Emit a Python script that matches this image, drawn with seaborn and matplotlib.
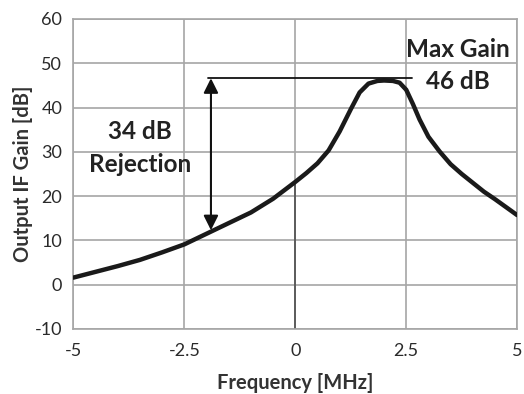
import matplotlib
matplotlib.use("Agg")
import matplotlib.pyplot as plt
import seaborn as sns
import pandas as pd

# curve
freq_mhz = [-5, -4.5, -4, -3.5, -3, -2.5, -2, -1.5, -1, -0.5, 0, 0.25, 0.5, 0.75,
            1, 1.25, 1.45, 1.65, 1.85, 2.0, 2.2, 2.35, 2.5, 2.65, 2.8, 3.0, 3.25, 3.5,
            3.75, 4, 4.25, 4.5, 4.75, 5]
gain_db = [1.6, 2.9, 4.2, 5.6, 7.3, 9.1, 11.5, 13.9, 16.3, 19.4, 23.2, 25.2, 27.4, 30.3,
           34.6, 39.6, 43.4, 45.4, 46.0, 46.1, 46.0, 45.6, 44.0, 40.8, 37.3, 33.4, 30.1, 27.2,
           25.0, 23.0, 21.0, 19.3, 17.5, 15.7]

x_ticks = [-5, -2.5, 0, 2.5, 5]
x_tick_labels = ["-5", "-2.5", "0", "2.5", "5"]
y_ticks = [-10, 0, 10, 20, 30, 40, 50, 60]

max_gain = 46.6
rejection_low = 12.3
arrow_x = -1.9

df = pd.DataFrame({"freq": freq_mhz, "gain": gain_db})

sns.set_style("white")
plt.rcParams["font.family"] = ["Lato", "DejaVu Sans"]
plt.rcParams["axes.unicode_minus"] = False

fig, ax = plt.subplots(figsize=(5.24, 3.94), dpi=100)
fig.subplots_adjust(left=0.14, right=0.987, top=0.952, bottom=0.165)

grid_c = "#a6a6a6"
ax.set_xlim(-5, 5)
ax.set_ylim(-10, 60)
ax.set_xticks(x_ticks)
ax.set_xticklabels(x_tick_labels)
ax.set_yticks(y_ticks)
ax.grid(True, color=grid_c, linewidth=1.2)
ax.set_axisbelow(True)
for s in ax.spines.values():
    s.set_color(grid_c)
    s.set_linewidth(1.2)
ax.tick_params(axis="both", colors=grid_c, length=5, width=1.2, labelsize=13,
               labelcolor="#2a2a2a", direction="out")
ax.tick_params(axis="x", pad=5)
ax.tick_params(axis="y", pad=3)

# dark zero line up to the curve
ax.plot([0, 0], [-10, 23.2], color="#555555", linewidth=1.3, zorder=2)

sns.lineplot(data=df, x="freq", y="gain", ax=ax, color="#1a1a1a", linewidth=3.2, zorder=3,
             solid_joinstyle="round", solid_capstyle="round")

# max gain line and rejection arrow
ax.plot([-1.96, 2.64], [max_gain, max_gain], color="#111111", linewidth=1.3, zorder=4)
ax.annotate("", xy=(arrow_x, max_gain), xytext=(arrow_x, rejection_low),
            arrowprops=dict(arrowstyle="<|-|>", color="#111111", lw=1.5,
                            mutation_scale=22, shrinkA=0, shrinkB=0), zorder=4)

txt = dict(ha="center", va="center", fontsize=17.5, fontweight="bold", color="#222222")
ax.text(-3.5, 34.6, "34 dB", **txt)
ax.text(-3.5, 27.1, "Rejection", **txt)
ax.text(3.66, 53.2, "Max Gain", **txt)
ax.text(3.66, 45.9, "46 dB", **txt)

ax.set_xlabel("Frequency [MHz]", fontsize=14.5, fontweight="bold", color="#333333")
ax.set_ylabel("Output IF Gain [dB]", fontsize=14.5, fontweight="bold", color="#333333")
ax.xaxis.set_label_coords(0.5, -0.174)
ax.yaxis.set_label_coords(-0.113, 0.5)
ax.xaxis.label.set_va("center")
ax.yaxis.label.set_va("center")

fig.savefig("out.png", dpi=100)
